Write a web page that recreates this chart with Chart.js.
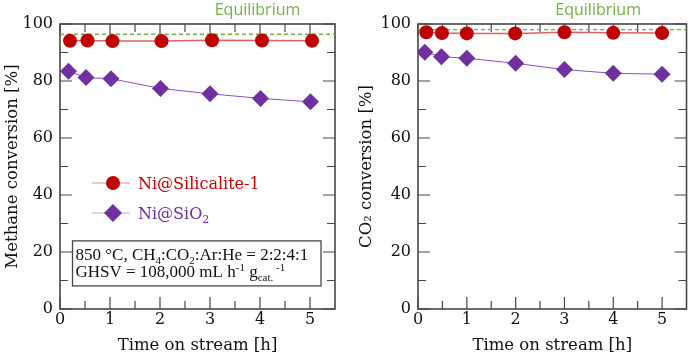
<!DOCTYPE html>
<html><head><meta charset="utf-8">
<script src="https://cdn.jsdelivr.net/npm/chart.js@4/dist/chart.umd.min.js"></script>
<style>
html,body{margin:0;padding:0;background:#fff;}
#wrap{position:relative;width:695px;height:357px;}
canvas{position:absolute;top:0;}
#c1{left:0;} #c2{left:347px;}
</style></head>
<body><div id="wrap"><canvas id="c1" width="347" height="357"></canvas><canvas id="c2" width="348" height="357"></canvas></div>
<script>
// ---- data ----
const timeCH4Sil = [0.2, 0.55, 1.05, 2.03, 3.04, 4.04, 5.04];
const timeCH4SiO2 = [0.17, 0.52, 1.02, 2.01, 3.0, 4.01, 5.01];
const ch4Silicalite = [94.1, 94.2, 94.0, 94.0, 94.3, 94.2, 94.1];
const ch4SiO2 = [83.4, 81.2, 80.8, 77.4, 75.5, 73.9, 72.7];
const ch4Equilibrium = 96.4;

const timeCO2Sil = [0.17, 0.49, 1.0, 1.99, 3.0, 4.0, 5.0];
const timeCO2SiO2 = [0.14, 0.48, 1.0, 2.0, 3.0, 4.0, 5.0];
const co2Silicalite = [97.1, 96.8, 96.7, 96.7, 97.1, 96.9, 96.8];
const co2SiO2 = [90.1, 88.5, 88.0, 86.2, 84.0, 82.7, 82.4];
const co2Equilibrium = 98.0;

const xRange = [0, 5.5];
const xMajorTicks = [0, 1, 2, 3, 4, 5];
const xMinorTicks = [0.5, 1.5, 2.5, 3.5, 4.5];
const yMajorTicks = [0, 20, 40, 60, 80, 100];
const yMinorTicks = [10, 30, 50, 70, 90];

const seriesNames = ['Ni@Silicalite-1', 'Ni@SiO2'];
const eqLabel = 'Equilibrium';
const xTitle = 'Time on stream [h]';
const yTitleLeft = 'Methane conversion [%]';
const yTitleRight = 'CO\u2082 conversion [%]';

// ---- styles ----
const RED = '#c00000', PURPLE = '#7030a0', GREEN = '#74b045', AXIS = '#474747';
const SERIF = 'DejaVu Serif';
const BOXFONT = 'Liberation Serif';

function pts(xs, ys){ return xs.map((x,i)=>({x:x,y:ys[i]})); }

function drawRich(ctx, parts, x, y, size, color, family){
  ctx.fillStyle = color; ctx.textBaseline = 'alphabetic'; ctx.textAlign = 'left';
  let cx = x;
  parts.forEach(p=>{
    const mode = p[1] || '';
    const fs = mode ? Math.round(size*0.66) : size;
    ctx.font = fs + 'px "' + family + '"';
    const dy = mode === 'sub' ? size*0.24 : (mode === 'sup' ? -size*0.33 : 0);
    ctx.fillText(p[0], cx, y + dy);
    cx += ctx.measureText(p[0]).width;
  });
  return cx;
}

const framePlugin = {
  id: 'frame',
  beforeDatasetsDraw(chart){
    const {ctx, chartArea:a, scales:{x, y}} = chart;
    ctx.save();
    ctx.strokeStyle = AXIS; ctx.lineWidth = 1.2;
    ctx.beginPath();
    const tk = (vals, len) => {
      vals.forEach(v=>{
        const px = x.getPixelForValue(v);
        ctx.moveTo(px, a.bottom); ctx.lineTo(px, a.bottom - len);
        ctx.moveTo(px, a.top); ctx.lineTo(px, a.top + len);
      });
    };
    const tky = (vals, len) => {
      vals.forEach(v=>{
        const py = y.getPixelForValue(v);
        ctx.moveTo(a.left, py); ctx.lineTo(a.left + len, py);
        ctx.moveTo(a.right, py); ctx.lineTo(a.right - len, py);
      });
    };
    tk(xMajorTicks, 12); tk(xMinorTicks, 8);
    tky(yMajorTicks, 12); tky(yMinorTicks, 8);
    ctx.stroke();
    ctx.lineWidth = 1.6;
    ctx.strokeRect(a.left, a.top, a.right - a.left, a.bottom - a.top);
    ctx.restore();
  },
  afterDraw(chart){
    const {ctx, chartArea:a, scales:{x, y}} = chart;
    const o = chart.options.plugins.frame;
    ctx.save();
    // Equilibrium label
    ctx.font = '16px "Open Sans"'; ctx.fillStyle = GREEN;
    ctx.textAlign = 'center'; ctx.textBaseline = 'middle';
    ctx.fillText(eqLabel, x.getPixelForValue(o.eqLabelX), a.top - 14);
    if (o.legend){
      // legend
      const items = [
        {name:[[seriesNames[0],'']], color:RED, line:'rgba(230,120,120,0.55)', style:'circle', yv:44.2},
        {name:[['Ni@SiO',''],['2','sub']], color:PURPLE, line:'rgba(180,140,210,0.5)', style:'diamond', yv:33.7}
      ];
      items.forEach(it=>{
        const py = y.getPixelForValue(it.yv);
        const x0 = x.getPixelForValue(0.64), x1 = x.getPixelForValue(1.4), xm = x.getPixelForValue(1.06);
        ctx.strokeStyle = it.line; ctx.lineWidth = 1.6;
        ctx.beginPath(); ctx.moveTo(x0, py); ctx.lineTo(x1, py); ctx.stroke();
        ctx.fillStyle = it.color;
        ctx.beginPath();
        if (it.style === 'circle'){ ctx.arc(xm, py, 7, 0, Math.PI*2); }
        else { ctx.moveTo(xm, py-9); ctx.lineTo(xm+9, py); ctx.lineTo(xm, py+9); ctx.lineTo(xm-9, py); ctx.closePath(); }
        ctx.fill();
        drawRich(ctx, it.name, x.getPixelForValue(1.56), py + 6, 16, it.color, SERIF);
      });
      // annotation box
      const bx0 = x.getPixelForValue(0.25), bx1 = x.getPixelForValue(5.22);
      const by0 = y.getPixelForValue(23.9), by1 = y.getPixelForValue(8.1);
      ctx.fillStyle = '#fff'; ctx.fillRect(bx0, by0, bx1-bx0, by1-by0);
      ctx.strokeStyle = AXIS; ctx.lineWidth = 1.3; ctx.strokeRect(bx0, by0, bx1-bx0, by1-by0);
      drawRich(ctx, [['850 °C, CH',''],['4','sub'],[':CO',''],['2','sub'],[':Ar:He = 2:2:4:1','']], bx0+3, by0+19, 17, '#111', BOXFONT);
      drawRich(ctx, [['GHSV = 108,000 mL h',''],['-1','sup'],[' g',''],['cat.','sub'],[' -1','sup']], bx0+3, by0+36, 17, '#111', BOXFONT);
    }
    ctx.restore();
  }
};

function makeChart(id, o){
  const tickFont = {family: SERIF, size: 16};
  return new Chart(document.getElementById(id), {
    type: 'scatter',
    data: { datasets: [
      { label: seriesNames[0], data: pts(o.tSil, o.sil), showLine: true, borderColor: 'rgba(215,70,70,0.85)', borderWidth: 1.5,
        pointStyle: 'circle', pointRadius: 7, pointBackgroundColor: RED, pointBorderColor: RED, pointBorderWidth: 0 },
      { label: seriesNames[1], data: pts(o.tSiO2, o.sio2), showLine: true, borderColor: 'rgba(128,60,175,0.9)', borderWidth: 1,
        pointStyle: 'rectRot', pointRadius: 8.5, pointBackgroundColor: PURPLE, pointBorderColor: PURPLE, pointBorderWidth: 0 },
      { label: eqLabel, data: [{x: xRange[0], y: o.eq}, {x: xRange[1], y: o.eq}], showLine: true, borderColor: GREEN,
        borderWidth: 1.3, borderDash: [4, 3], pointRadius: 0 }
    ]},
    options: {
      responsive: false, animation: false, events: [],
      layout: { padding: { top: 24, right: o.padRight, left: 0, bottom: 0 } },
      plugins: { legend: { display: false }, tooltip: { enabled: false },
        frame: { eqLabelX: o.eqLabelX, legend: o.legend } },
      scales: {
        x: { type: 'linear', min: xRange[0], max: xRange[1],
          grid: { display: false, drawTicks: false }, border: { display: false },
          ticks: { stepSize: 1, includeBounds: false, padding: 1, font: tickFont, color: '#111', maxRotation: 0 },
          title: { display: true, text: xTitle, font: {family: SERIF, size: 16.5}, color: '#111', padding: {top: 0, bottom: 1} },
          afterFit(s){ s.height = 48; } },
        y: { type: 'linear', min: 0, max: 100,
          grid: { display: false, drawTicks: false }, border: { display: false },
          ticks: { stepSize: 20, padding: 7, font: tickFont, color: '#111' },
          title: { display: true, text: o.yTitle, font: {family: SERIF, size: 16.5}, color: '#111', padding: {top: o.yTitlePad, bottom: 0} },
          afterFit(s){ s.width = o.yWidth; } }
      }
    },
    plugins: [framePlugin]
  });
}

makeChart('c1', { tSil: timeCH4Sil, sil: ch4Silicalite, tSiO2: timeCH4SiO2, sio2: ch4SiO2, eq: ch4Equilibrium,
  yTitle: yTitleLeft, yWidth: 60, padRight: 12, yTitlePad: 2.5, eqLabelX: 3.95, legend: true });
makeChart('c2', { tSil: timeCO2Sil, sil: co2Silicalite, tSiO2: timeCO2SiO2, sio2: co2SiO2, eq: co2Equilibrium,
  yTitle: yTitleRight, yWidth: 71, padRight: 2, yTitlePad: 10, eqLabelX: 3.69, legend: false });
</script>
</body></html>
